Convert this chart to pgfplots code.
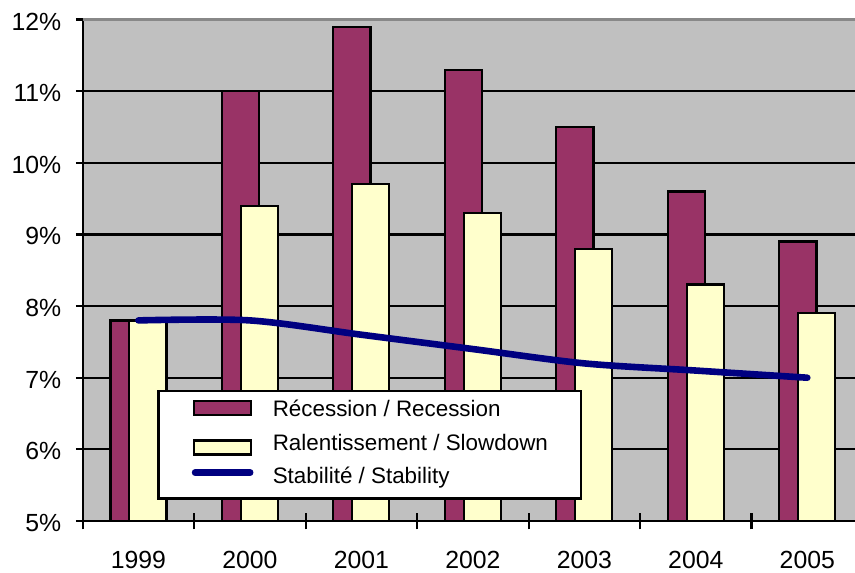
\documentclass[border=0pt]{standalone}
\usepackage{fontspec}
\setmainfont{Liberation Sans}
\usepackage{pgfplots}
\pgfplotsset{compat=1.18}
\definecolor{plotbg}{HTML}{C0C0C0}
\definecolor{recess}{HTML}{993366}
\definecolor{slow}{HTML}{FFFFCC}
\definecolor{stab}{HTML}{000080}
\definecolor{topgray}{HTML}{888888}
\begin{document}
\begin{tikzpicture}[x=1pt,y=1pt]
\path[use as bounding box] (-41.35,-25.5) rectangle (386.15,260.5);
\begin{axis}[
  name=ax,
  at={(0,0)}, anchor=south west,
  scale only axis, width=386.15pt, height=250.75pt,
  xmin=-0.5, xmax=6.428, ymin=5, ymax=12,
  axis lines*=left,
  axis line style={line width=1.1pt, black},
  axis background/.style={fill=plotbg},
  xtick={0,1,2,3,4,5,6},
  xticklabels={1999,2000,2001,2002,2003,2004,2005},
  minor xtick={-0.5,0.5,1.5,2.5,3.5,4.5,5.5},
  ytick={5,6,7,8,9,10,11,12},
  yticklabels={5\%,6\%,7\%,8\%,9\%,10\%,11\%,12\%},
  ymajorgrids, grid style={black, line width=1.1pt},
  tick align=center,
  major tick length=6.7pt, minor tick length=8.3pt,
  major x tick style={draw=none},
  minor x tick style={black, line width=1.1pt},
  ytick style={black, line width=1.1pt},
  ticklabel style={font=\fontsize{12.4}{14}\selectfont},
  xticklabel style={anchor=base, inner sep=0pt, yshift=-20.4pt},
  yticklabel style={anchor=base east, inner sep=0pt, xshift=-7.15pt, yshift=-5.25pt},
  legend style={
    at={(0.0967,0.2612)}, anchor=north west,
    draw=black, line width=1.1pt, fill=white,
    font=\fontsize{11.2}{13.4}\selectfont,
    inner xsep=16.65pt, inner ysep=4.5pt,
    row sep=5.67pt, column sep=9.65pt,
    cells={anchor=base west},
    nodes={inner sep=0pt, text height=8pt, text depth=3pt},
  },
]
\addplot[ybar, bar width=18.6pt, bar shift=-4.7pt, draw=black, line width=1.1pt, fill=recess,
  legend image code/.code={\draw[draw=black, fill=recess, line width=1.1pt] (0pt,0.85pt) rectangle (28.3pt,7.85pt);}]
  coordinates {(0,7.8) (1,11.0) (2,11.9) (3,11.3) (4,10.5) (5,9.6) (6,8.9)};
\addlegendentry{Récession / Recession}
\addplot[ybar, bar width=18.6pt, bar shift=4.7pt, draw=black, line width=1.1pt, fill=slow,
  legend image code/.code={\draw[draw=black, fill=slow, line width=1.1pt] (0pt,-2.1pt) rectangle (28.3pt,4.9pt);}]
  coordinates {(0,7.8) (1,9.4) (2,9.7) (3,9.3) (4,8.8) (5,8.3) (6,7.9)};
\addlegendentry{Ralentissement / Slowdown}
\addplot[smooth, color=stab, line width=3.3pt, line cap=round, mark=none,
  legend image code/.code={\draw[color=stab, line width=3.3pt, line cap=round] (0.45pt,5.5pt) -- (28pt,5.5pt);}]
  coordinates {(0,7.8) (1,7.8) (2,7.6) (3,7.4) (4,7.2) (5,7.1) (6,7.0)};
\addlegendentry{Stabilité / Stability}
\end{axis}
\draw[topgray, line width=1.8pt] (ax.north west) -- (ax.north east);
\end{tikzpicture}
\end{document}
